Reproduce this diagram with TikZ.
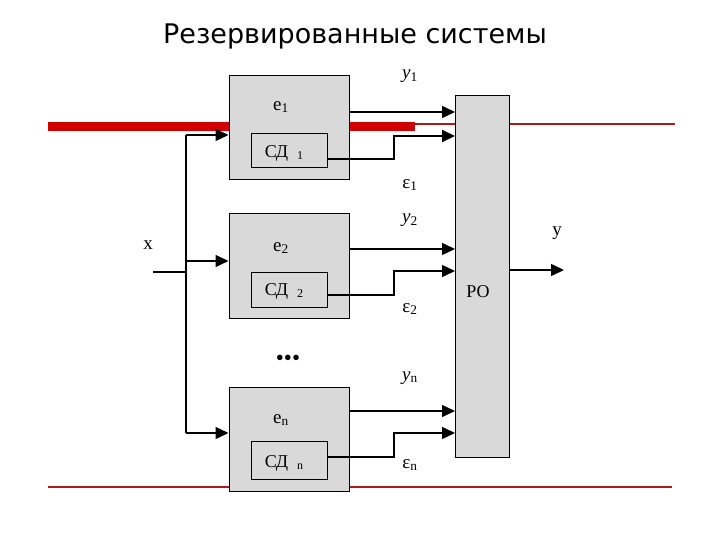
\documentclass[tikz,border=0pt]{standalone}
\usepackage{fontspec}
\setmainfont{Liberation Serif}
\newfontfamily\titlefont{DejaVu Sans}
\usetikzlibrary{arrows.meta}

\definecolor{boxgray}{RGB}{217,217,217}
\definecolor{barred}{RGB}{204,0,0}
\definecolor{linered}{RGB}{175,25,25}

\tikzset{
  blk/.style={draw, fill=boxgray, line width=1pt, minimum width=120pt, minimum height=104pt, inner sep=0pt},
  sdbox/.style={draw, fill=boxgray, line width=1pt, minimum width=76pt, minimum height=34pt, inner sep=0pt},
  lbl/.style={font=\fontsize{19}{19}\selectfont, inner sep=0pt},
  sdlbl/.style={font=\fontsize{18}{18}\selectfont, inner sep=0pt},
  arr/.style={line width=1.5pt, -{Triangle[length=13pt,width=12pt]}},
}
\newcommand{\sdnum}[1]{\hspace{9pt}{\fontsize{12}{12}\selectfont\raisebox{-2pt}{#1}}}

\begin{document}
\begin{tikzpicture}[x=1pt,y=-1pt]
  \useasboundingbox (0,0) rectangle (720,540);
  % red lines behind everything
  \draw[linered, line width=1.2pt] (48,124) -- (675,124);
  \draw[linered, line width=1.2pt] (48,487) -- (672,487);
  \draw[barred, line width=9pt] (48,127) -- (415,127);

  \node[font=\titlefont\fontsize{27}{27}\selectfont] (title) at (355,36) {Резервированные системы};

  % blocks
  \node[blk] (b1) at (289,128) {};
  \node[sdbox] (c1) at (289.5,151) {};
  \node[blk, minimum height=105pt] (b2) at (289,266) {};
  \node[sdbox, minimum height=35pt] (c2) at (289.5,289.5) {};
  \node[blk] (bn) at (289,439.5) {};
  \node[sdbox, minimum height=38pt] (cn) at (289.5,460) {};
  \node[blk, minimum width=54pt, minimum height=361pt] (ro) at (482,276.5) {};

  \node[lbl] (e1) at (281,107) {e\textsubscript{1}};
  \node[lbl] (e2) at (281,248) {e\textsubscript{2}};
  \node[lbl] (en) at (281,420) {e\textsubscript{n}};
  \node[sdlbl] (s1) at (284,153) {СД\sdnum{1}};
  \node[sdlbl] (s2) at (284,291) {СД\sdnum{2}};
  \node[sdlbl] (sn) at (284,463) {СД\sdnum{n}};
  \node[sdlbl] (rotext) at (478,292) {РО};

  \node[lbl] (y1) at (410,76) {\textit{y}\textsubscript{1}};
  \node[lbl] (eps1) at (410,185) {ε\textsubscript{1}};
  \node[lbl] (y2) at (410,220) {\textit{y}\textsubscript{2}};
  \node[lbl] (eps2) at (410,309) {ε\textsubscript{2}};
  \node[lbl] (yn) at (410,378) {\textit{y}\textsubscript{n}};
  \node[lbl] (epsn) at (410,465) {ε\textsubscript{n}};
  \node[lbl] (x) at (148,245) {x};
  \node[lbl] (y) at (557,233) {y};
  \node[font=\fontsize{23}{23}\selectfont, inner sep=0pt] (dots) at (288,360) {•••};

  % PO inputs
  \coordinate (p1a) at (455,112);
  \coordinate (p1b) at (455,136);
  \coordinate (p2a) at (455,249);
  \coordinate (p2b) at (455,271);
  \coordinate (pna) at (455,411);
  \coordinate (pnb) at (455,433);

  \draw[arr] (b1.east |- p1a) -- (p1a);
  \draw[arr, line width=2pt] ([yshift=-8pt]c1.east) -- ++(66,0) |- (p1b);
  \draw[arr] (b2.east |- p2a) -- (p2a);
  \draw[arr] ([yshift=-5.5pt]c2.east) -- ++(66,0) |- (p2b);
  \draw[arr] (bn.east |- pna) -- (pna);
  \draw[arr] ([yshift=3pt]cn.east) -- ++(66,0) |- (pnb);

  % input bus
  \coordinate (xin) at (153,272);
  \coordinate (bt) at (186,135);
  \coordinate (bm) at (186,261);
  \coordinate (bb) at (186,433);
  \draw[line width=2pt] (xin) -- (bt |- xin);
  \draw[line width=2pt] (bt) -- (bb);
  \draw[arr] (bt) -- (b1.west |- bt);
  \draw[arr] (bm) -- (b2.west |- bm);
  \draw[arr] (bb) -- (bn.west |- bb);

  % output
  \coordinate (yout) at (564,270);
  \draw[arr] (ro.east |- yout) -- (yout);
\end{tikzpicture}
\end{document}
